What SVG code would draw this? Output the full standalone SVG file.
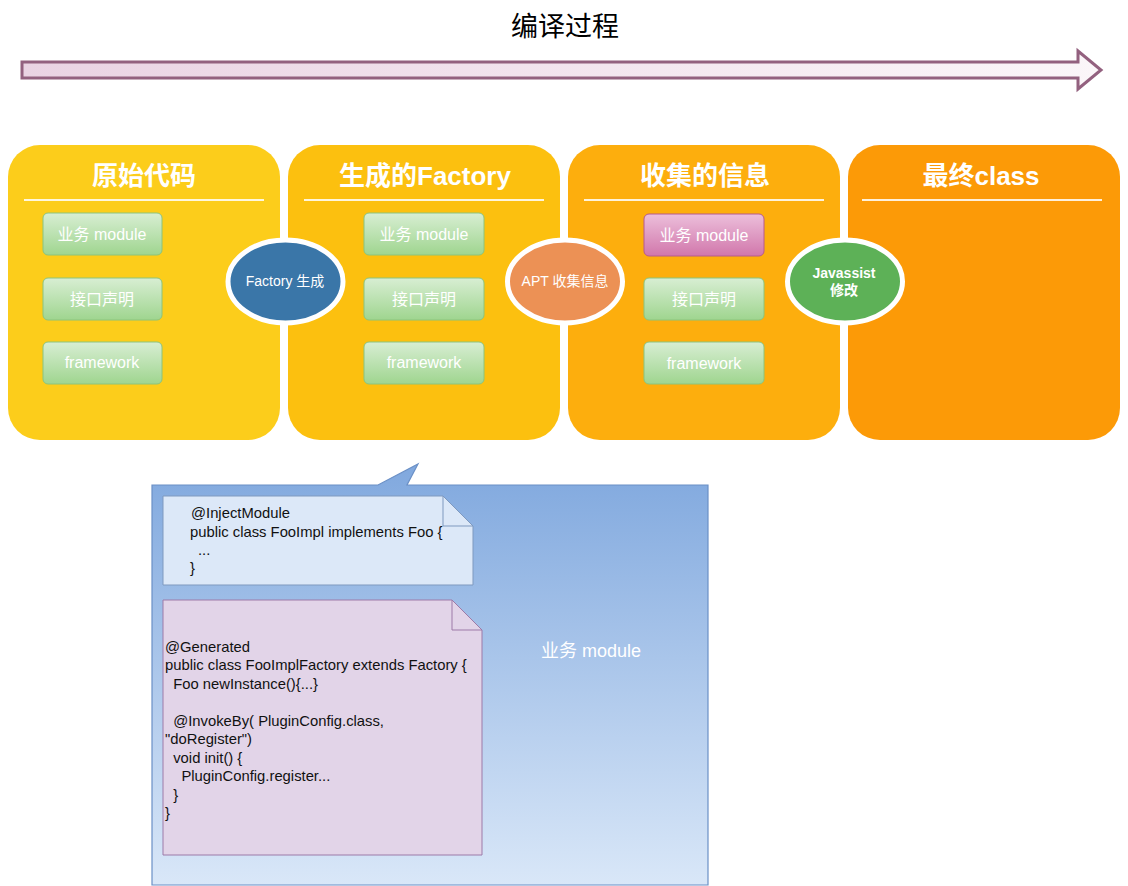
<svg xmlns="http://www.w3.org/2000/svg" width="1128" height="886" viewBox="0 0 1128 886">
<defs>
<linearGradient id="arrowG" x1="0" y1="0" x2="1" y2="0"><stop offset="0" stop-color="#ead3e3"/><stop offset="1" stop-color="#fbf6f9"/></linearGradient>
<linearGradient id="greenG" x1="0" y1="0" x2="0" y2="1"><stop offset="0" stop-color="#d8eed3"/><stop offset="1" stop-color="#9fd58f"/></linearGradient>
<linearGradient id="pinkG" x1="0" y1="0" x2="0" y2="1"><stop offset="0" stop-color="#ecbfdb"/><stop offset="1" stop-color="#d177ab"/></linearGradient>
<linearGradient id="blueG" x1="0" y1="0" x2="0" y2="1"><stop offset="0" stop-color="#80a8de"/><stop offset="1" stop-color="#d9e7f8"/></linearGradient>
<style>
.panel-title{font-family:"Liberation Sans","Noto Sans CJK SC",sans-serif;font-size:26px;font-weight:bold;fill:#fff;text-anchor:middle}
.sep{stroke:#fff;stroke-width:2;opacity:0.85}
.gbox{fill:url(#greenG);stroke:#8cc47c;stroke-width:1}
.pbox{fill:url(#pinkG);stroke:#b65a8e;stroke-width:1}
.btxt{font-family:"Liberation Sans","Noto Sans CJK SC",sans-serif;font-size:16px;fill:#fff;text-anchor:middle}
.etxt{font-family:"Liberation Sans","Noto Sans CJK SC",sans-serif;font-size:14px;fill:#fff;text-anchor:middle}
.code{font-family:"Liberation Sans","Noto Sans CJK SC",sans-serif;font-size:14.8px;fill:#111}
</style>
</defs>
<rect width="1128" height="886" fill="#fff"/>
<g id="title">
<text x="565" y="36" font-family="Noto Sans CJK SC, sans-serif" font-size="27" fill="#000" text-anchor="middle">编译过程</text>
<path d="M22,62 H1078 V51 L1101,70 L1078,89 V78 H22 Z" fill="url(#arrowG)" stroke="#93617f" stroke-width="3" stroke-linejoin="miter"/>
</g>
<g id="panel1">
<rect x="8" y="145" width="272" height="295" rx="32" fill="#fccd1b"/>
<text class="panel-title" x="144" y="185">原始代码</text>
<line class="sep" x1="24" y1="200" x2="264" y2="200"/>
<rect class="gbox" x="43" y="213" width="119" height="42" rx="5"/><text class="btxt" x="102" y="240">业务 module</text>
<rect class="gbox" x="43" y="278" width="119" height="42" rx="5"/><text class="btxt" x="102" y="305">接口声明</text>
<rect class="gbox" x="43" y="342" width="119" height="42" rx="5"/><text class="btxt" x="102" y="368">framework</text>
</g>
<g id="panel2">
<rect x="288" y="145" width="272" height="295" rx="32" fill="#fcc00f"/>
<text class="panel-title" x="425" y="185">生成的Factory</text>
<line class="sep" x1="304" y1="200" x2="544" y2="200"/>
<rect class="gbox" x="364" y="213" width="120" height="42" rx="5"/><text class="btxt" x="424" y="240">业务 module</text>
<rect class="gbox" x="364" y="278" width="120" height="42" rx="5"/><text class="btxt" x="424" y="305">接口声明</text>
<rect class="gbox" x="364" y="342" width="120" height="42" rx="5"/><text class="btxt" x="424" y="368">framework</text>
</g>
<g id="panel3">
<rect x="568" y="145" width="272" height="295" rx="32" fill="#fdae0d"/>
<text class="panel-title" x="705" y="185">收集的信息</text>
<line class="sep" x1="584" y1="200" x2="824" y2="200"/>
<rect class="pbox" x="644" y="214" width="120" height="42" rx="5"/><text class="btxt" x="704" y="241">业务 module</text>
<rect class="gbox" x="644" y="278" width="120" height="42" rx="5"/><text class="btxt" x="704" y="305">接口声明</text>
<rect class="gbox" x="644" y="342" width="120" height="42" rx="5"/><text class="btxt" x="704" y="369">framework</text>
</g>
<g id="panel4">
<rect x="848" y="145" width="272" height="295" rx="32" fill="#fc9a07"/>
<text class="panel-title" x="981" y="185">最终class</text>
<line class="sep" x1="862" y1="200" x2="1102" y2="200"/>
</g>
<g id="connectors">
<g id="factory-gen">
<ellipse cx="285.5" cy="281.5" rx="57.5" ry="41.5" fill="#3a76a8" stroke="#fff" stroke-width="5"/>
<text class="etxt" x="285" y="286">Factory 生成</text>
</g>
<g id="apt-collect">
<ellipse cx="565" cy="281.5" rx="57.5" ry="41.5" fill="#ec9155" stroke="#fff" stroke-width="5"/>
<text class="etxt" x="565" y="286">APT 收集信息</text>
</g>
<g id="javassist">
<ellipse cx="845" cy="281.5" rx="57.5" ry="41.5" fill="#5db157" stroke="#fff" stroke-width="5"/>
<text class="etxt" x="844" y="278" font-size="13" font-weight="bold">Javassist</text>
<text class="etxt" x="844" y="295" font-size="13" font-weight="bold">修改</text>
</g>
</g>
<g id="module-box">
<path d="M152,485 H378 L418,464 L407,485 H708 V885 H152 Z" fill="url(#blueG)" stroke="#6b90c6" stroke-width="1.2"/>
<text x="591" y="657" font-family="Liberation Sans, Noto Sans CJK SC, sans-serif" font-size="18" fill="#fff" text-anchor="middle">业务 module</text>
</g>
<g id="note1">
<path d="M163,496 H443 L473,526 V585 H163 Z" fill="#dce8f8" stroke="#7e99bf" stroke-width="1"/>
<path d="M443,496 V526 H473" fill="none" stroke="#7e99bf" stroke-width="1"/>
<text class="code" x="191" y="518">@InjectModule</text>
<text class="code" x="190" y="537">public class FooImpl implements Foo {</text>
<text class="code" x="198" y="555">...</text>
<text class="code" x="190" y="573">}</text>
</g>
<g id="note2">
<path d="M163,600 H452 L482,630 V855 H163 Z" fill="#e2d4e8" stroke="#9d7aa8" stroke-width="1"/>
<path d="M452,600 V630 H482" fill="none" stroke="#9d7aa8" stroke-width="1"/>
<text class="code" x="165" y="652">@Generated</text>
<text class="code" x="165" y="670">public class FooImplFactory extends Factory {</text>
<text class="code" x="165" y="689" xml:space="preserve">  Foo newInstance(){...}</text>
<text class="code" x="165" y="726" xml:space="preserve">  @InvokeBy( PluginConfig.class,</text>
<text class="code" x="165" y="744">"doRegister")</text>
<text class="code" x="165" y="763" xml:space="preserve">  void init() {</text>
<text class="code" x="165" y="781" xml:space="preserve">    PluginConfig.register...</text>
<text class="code" x="165" y="800" xml:space="preserve">  }</text>
<text class="code" x="165" y="818">}</text>
</g>
</svg>
